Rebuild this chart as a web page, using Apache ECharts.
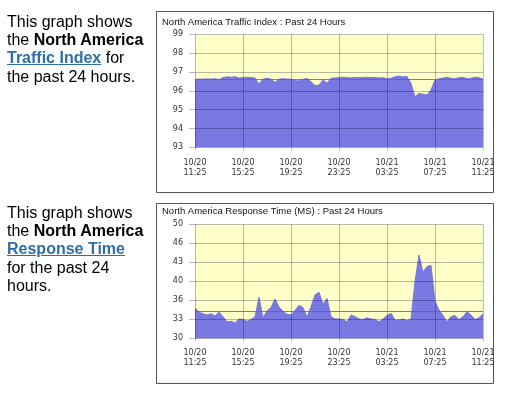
<!DOCTYPE html>
<html><head><meta charset="utf-8">
<script src="https://cdn.jsdelivr.net/npm/echarts@6/dist/echarts.min.js"></script>
<style>
html,body{margin:0;padding:0;background:#fff;}
#chart{position:absolute;left:0;top:0;width:513px;height:394px;}
.desc{position:absolute;left:7px;font-family:'Liberation Sans',Arial,sans-serif;font-size:16px;line-height:18.33px;color:#000;white-space:nowrap;}
.desc a{color:#2e6ea6;font-weight:bold;text-decoration:underline;}
</style></head><body>
<div id="chart"></div>
<div class="desc" style="top:12.6px">This graph shows<br>the <b>North America</b><br><a href="#">Traffic Index</a> for<br>the past 24 hours.</div>
<div class="desc" style="top:203.6px">This graph shows<br>the <b>North America</b><br><a href="#">Response Time</a><br>for the past 24<br>hours.</div>
<script>
// sampling step of the series (minutes from 10/20 11:25)
const sampleMinutes = 20;
const tickLabels = ['10/20\n11:25', '10/20\n15:25', '10/20\n19:25', '10/20\n23:25', '10/21\n03:25', '10/21\n07:25', '10/21\n11:25'];
const trafficTitle = 'North America Traffic Index : Past 24 Hours';
const responseTitle = 'North America Response Time (MS) : Past 24 Hours';
const trafficIndex = [96.60,96.62,96.62,96.63,96.62,96.64,96.60,96.70,96.74,96.72,96.75,96.68,96.70,96.72,96.70,96.68,96.36,96.62,96.66,96.62,96.45,96.62,96.64,96.62,96.62,96.55,96.52,96.60,96.66,96.48,96.28,96.30,96.58,96.42,96.66,96.68,96.70,96.72,96.70,96.68,96.70,96.70,96.70,96.72,96.70,96.70,96.68,96.70,96.64,96.66,96.75,96.78,96.74,96.76,96.40,95.68,95.86,95.82,95.78,96.05,96.58,96.64,96.68,96.72,96.66,96.64,96.70,96.72,96.64,96.66,96.72,96.70,96.62];
const responseTime = [35.3,34.6,34.3,34.1,34.3,33.9,34.6,33.8,32.9,33.0,32.7,33.4,33.3,33.0,33.3,33.8,37.2,33.6,34.8,35.4,36.9,35.5,34.7,34.2,34.1,34.9,35.8,35.4,33.7,35.6,37.6,38.1,36.0,37.0,33.8,33.4,33.4,33.3,32.9,34.1,33.8,33.4,33.3,33.6,33.4,33.3,32.9,33.4,34.0,34.4,33.2,33.2,33.4,33.1,33.4,40.0,44.6,41.6,42.6,42.8,36.5,35.0,34.0,32.9,33.8,34.0,33.3,33.8,34.7,34.1,33.3,33.6,34.3];
const trafficThreshold = 96.6;
const responseThreshold = 34.7;
const trafficTicks = [93, 99, 1];
const responseTicks = [30, 50, 20 / 6];

const gridColor = 'rgba(0,0,60,0.28)';
const plotBg = '#ffffc8';
const areaColor = '#7878e0';
const labelFont = {fontFamily: 'DejaVu Sans', fontSize: 8, color: '#333'};

function toPairs(arr) { return arr.map((v, i) => [i * sampleMinutes, v]); }

function xAxisCfg(gridIndex, margin) {
  return {
    type: 'value', gridIndex, min: 0, max: 1440, interval: 240, z: 3,
    axisLine: {show: false},
    axisTick: {show: true, length: 3, lineStyle: {color: gridColor}},
    splitLine: {show: true, lineStyle: {color: gridColor, width: 1}},
    axisLabel: Object.assign({margin, lineHeight: 10, showMaxLabel: true, showMinLabel: true,
      formatter: v => tickLabels[Math.round(v / 240)]}, labelFont)
  };
}
function yAxisCfg(gridIndex, ticks) {
  return {
    type: 'value', gridIndex, min: ticks[0], max: ticks[1], interval: ticks[2], z: 3,
    axisLine: {show: false},
    axisTick: {show: true, length: 6, lineStyle: {color: gridColor}},
    splitLine: {show: true, lineStyle: {color: gridColor, width: 1}},
    axisLabel: Object.assign({margin: 12, formatter: v => String(Math.floor(v + 1e-6))}, labelFont)
  };
}
function seriesCfg(idx, data) {
  return {
    type: 'line', xAxisIndex: idx, yAxisIndex: idx, data: toPairs(data), symbol: 'none', z: 2,
    lineStyle: {width: 1, color: areaColor},
    areaStyle: {color: areaColor, opacity: 1, origin: 'start'}
  };
}
function thresholdCfg(idx, threshold) {
  return {
    type: 'line', xAxisIndex: idx, yAxisIndex: idx, symbol: 'none', z: 4, silent: true,
    data: [[0, threshold], [1440, threshold]],
    lineStyle: {color: '#ff2a2a', width: 1, opacity: 0.85}
  };
}

const chart = echarts.init(document.getElementById('chart'), null, {renderer: 'canvas'});
chart.setOption({
  animation: false,
  backgroundColor: '#fff',
  title: [
    {text: trafficTitle, left: 162, top: 17, padding: 0,
      textStyle: {fontFamily: 'Liberation Sans', fontSize: 9.5, fontWeight: 'normal', color: '#111'}},
    {text: responseTitle, left: 162, top: 206.6, padding: 0,
      textStyle: {fontFamily: 'Liberation Sans', fontSize: 9.5, fontWeight: 'normal', color: '#111'}}
  ],
  grid: [
    {left: 195, top: 34.3, width: 288, height: 113, show: true, backgroundColor: plotBg, borderWidth: 0},
    {left: 195, top: 224.3, width: 288, height: 114, show: true, backgroundColor: plotBg, borderWidth: 0}
  ],
  xAxis: [xAxisCfg(0, 11), xAxisCfg(1, 10)],
  yAxis: [yAxisCfg(0, trafficTicks), yAxisCfg(1, responseTicks)],
  series: [seriesCfg(0, trafficIndex), seriesCfg(1, responseTime),
    thresholdCfg(0, trafficThreshold), thresholdCfg(1, responseThreshold)],
  graphic: [
    {type: 'rect', silent: true, shape: {x: 156.5, y: 11.5, width: 337, height: 181}, style: {fill: 'none', stroke: '#555', lineWidth: 1}},
    {type: 'rect', silent: true, shape: {x: 156.5, y: 203.5, width: 337, height: 180}, style: {fill: 'none', stroke: '#555', lineWidth: 1}}
  ]
});
</script>
</body></html>
